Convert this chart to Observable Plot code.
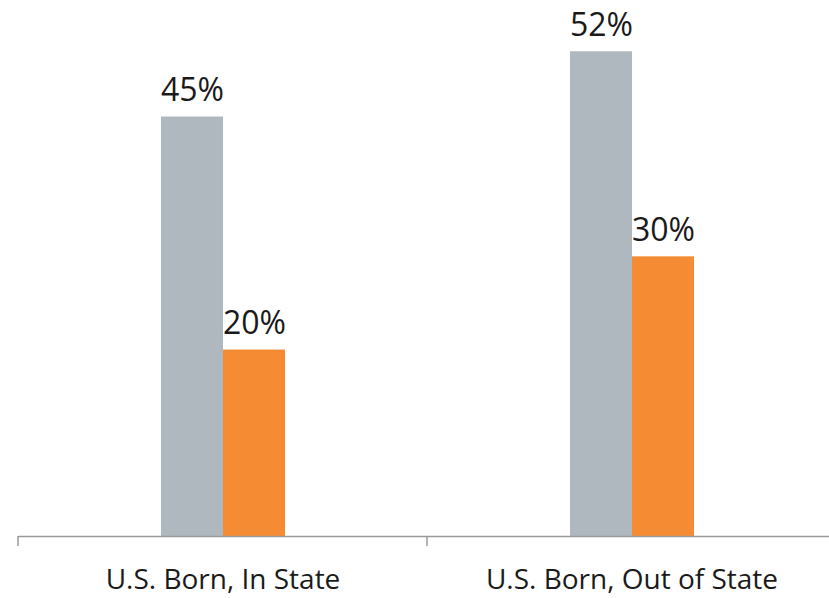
<!DOCTYPE html>
<html>
<head>
<meta charset="utf-8">
<script src="https://cdn.jsdelivr.net/npm/d3@7"></script>
<script src="https://cdn.jsdelivr.net/npm/@observablehq/plot@0.6"></script>
<style>
  html, body { margin: 0; padding: 0; background: #fff; }
  #chart { width: 829px; height: 598px; }
</style>
</head>
<body>
<div id="chart"></div>
<script>
const groups = ["U.S. Born, In State", "U.S. Born, Out of State"];
const series = ["A", "B"];
const valuesA = [45, 52];
const valuesB = [20, 30];
const colors = ["#aeb8be", "#f58b33"];

const data = [];
groups.forEach((g, i) => {
  data.push({group: g, series: series[0], value: valuesA[i]});
  data.push({group: g, series: series[1], value: valuesB[i]});
});

const FONT = "'Open Sans', 'Noto Sans', sans-serif";

const chart = Plot.plot({
  width: 829,
  height: 598,
  marginTop: 0,
  marginBottom: 62,
  marginLeft: 18,
  marginRight: -7,
  style: {fontFamily: FONT, background: "#fff", color: "#1a1a1a"},
  fx: {domain: groups, padding: 0, label: null},
  x: {domain: series, paddingInner: 0, paddingOuter: 2.25, axis: null},
  y: {domain: [0, 57.5], axis: null},
  color: {domain: series, range: colors},
  marks: [
    Plot.barY(data, {fx: "group", x: "series", y: "value", fill: "series"}),
    Plot.text(data, {
      fx: "group", x: "series", y: "value",
      text: d => d.value + "%",
      lineAnchor: "bottom", dy: -16,
      fontSize: 32, fill: "#1a1a1a"
    }),
    Plot.ruleY([0], {stroke: "#9a9a9a", strokeWidth: 1.5}),
    Plot.axisFx({anchor: "bottom", tickSize: 0, tickPadding: 33, fontSize: 28, fill: "#1a1a1a", label: null})
  ]
});

document.getElementById("chart").appendChild(chart);

// band boundary ticks below the baseline
const fx = chart.scale("fx");
const y = chart.scale("y");
const y0 = y.apply(0);
d3.select(chart).append("g")
  .attr("stroke", "#9a9a9a")
  .attr("stroke-width", 1.5)
  .selectAll("line")
  .data(groups)
  .join("line")
  .attr("x1", g => fx.apply(g))
  .attr("x2", g => fx.apply(g))
  .attr("y1", y0)
  .attr("y2", y0 + 10);
</script>
</body>
</html>
